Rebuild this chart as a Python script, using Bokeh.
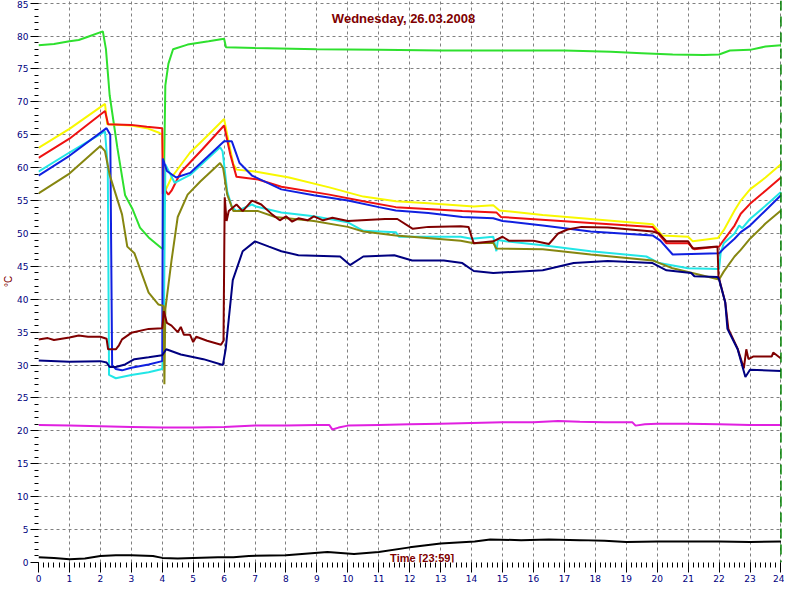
from bokeh.plotting import figure
from bokeh.models import Range1d, SingleIntervalTicker, Label, Span
from bokeh.embed import file_html
from bokeh.resources import INLINE

TITLE = "Wednesday, 26.03.2008"
Y_LABEL = "°C"
X_LABEL = "Time [23:59]"

# [hour, °C] pairs
green_pts = [[0, 78.6], [0.5, 78.8], [1.0, 79.2], [1.3, 79.4], [1.6, 79.9], [2.08, 80.7], [2.18, 78.0],
             [2.3, 71.0], [2.55, 63.0], [2.8, 55.8], [3.03, 53.8], [3.28, 50.9], [3.56, 49.4], [3.97, 47.8],
             [4.04, 47.6], [4.06, 60.0], [4.1, 72.5], [4.2, 75.8], [4.35, 78.0], [4.82, 78.7], [5.5, 79.2],
             [6.0, 79.6], [6.06, 78.3], [7, 78.2], [9, 78.0], [11, 77.9], [13, 77.8], [15, 77.8], [17, 77.8],
             [18.5, 77.6], [19.5, 77.4], [20.5, 77.2], [21.5, 77.1], [22.0, 77.2], [22.35, 77.8], [23.0, 77.9],
             [23.5, 78.4], [24, 78.6]]
yellow_pts = [[0, 63.0], [1.0, 65.9], [2.15, 69.7], [2.22, 66.6], [3.0, 66.4], [3.5, 66.0], [3.9, 65.3],
              [4.0, 65.0], [4.05, 58.0], [4.1, 56.5], [4.3, 58.5], [4.9, 62.3], [5.45, 64.8], [6.0, 67.4],
              [6.1, 65.0], [6.3, 60.5], [6.4, 59.7], [7.0, 59.4], [8.1, 58.5], [9.4, 57.0], [10.5, 55.6],
              [11.55, 54.9], [12.6, 54.6], [14.07, 54.1], [14.7, 54.3], [14.9, 53.5], [16.3, 52.8],
              [17.85, 52.2], [19.85, 51.4], [20.16, 49.7], [21.0, 49.5], [21.15, 48.8], [21.96, 49.3],
              [22.15, 50.5], [22.5, 53.5], [22.7, 55.0], [23.0, 56.7], [23.5, 58.5], [24, 60.5]]
red_pts = [[0, 61.5], [1.0, 64.4], [2.15, 68.6], [2.25, 66.6], [3.0, 66.5], [3.5, 66.2], [4.0, 66.0],
           [4.02, 56.0], [4.05, 61.0], [4.1, 56.5], [4.2, 55.9], [4.3, 56.5], [4.6, 59.3], [5.3, 62.8],
           [6.0, 66.4], [6.2, 62.0], [6.4, 58.6], [7.1, 58.2], [7.85, 57.1], [9.4, 55.9], [10.5, 54.9],
           [11.55, 54.0], [13.7, 53.4], [14.8, 53.2], [14.95, 52.5], [17.85, 51.6], [19.85, 51.0],
           [20.3, 48.5], [21.0, 48.5], [21.2, 47.6], [22.0, 48.0], [22.15, 49.0], [22.5, 51.2],
           [22.7, 53.0], [23.0, 54.5], [23.5, 56.5], [24, 58.5]]
blue_pts = [[0, 58.8], [1.0, 61.8], [2.2, 66.0], [2.32, 65.0], [2.38, 30.0], [2.5, 29.4], [2.7, 29.2],
            [3.0, 29.6], [3.56, 30.1], [4.0, 30.6], [4.02, 61.4], [4.15, 59.5], [4.45, 58.5], [4.9, 59.2],
            [6.0, 64.0], [6.25, 64.0], [6.5, 60.7], [6.9, 58.8], [7.85, 56.7], [8.9, 55.8], [10.0, 55.0],
            [11.0, 54.0], [11.55, 53.5], [12.6, 53.1], [13.7, 52.5], [14.7, 52.3], [15.0, 51.9],
            [16.3, 51.2], [17.85, 50.3], [19.85, 49.7], [20.1, 48.9], [20.5, 46.8], [22.0, 47.0],
            [22.15, 47.7], [22.5, 49.2], [22.7, 50.2], [23.0, 51.2], [23.5, 53.5], [24, 55.8]]
cyan_pts = [[0, 59.4], [1.0, 62.3], [2.15, 65.5], [2.24, 60.0], [2.28, 28.5], [2.5, 28.0], [3.0, 28.5],
            [3.56, 28.9], [4.0, 29.4], [4.05, 35.0], [4.1, 60.5], [4.4, 57.7], [4.9, 58.9], [5.87, 63.1],
            [5.95, 62.5], [6.1, 56.4], [6.25, 54.0], [6.4, 53.4], [6.9, 54.4], [7.03, 54.1], [7.85, 53.2],
            [8.9, 52.6], [10.0, 51.7], [10.5, 50.4], [11.55, 50.2], [11.65, 49.5], [13.65, 49.5],
            [14.0, 49.2], [14.7, 49.5], [14.8, 47.3], [14.85, 49.0], [15.1, 48.8], [16.3, 48.2],
            [17.85, 47.3], [19.65, 46.5], [20.06, 45.5], [21.0, 44.7], [22.0, 44.6], [22.05, 47.0],
            [22.15, 48.5], [22.5, 50.0], [22.65, 51.2], [22.75, 50.8], [23.0, 52.2], [23.5, 54.2], [24, 56.3]]
olive_pts = [[0, 56.1], [1.0, 59.1], [2.0, 63.3], [2.15, 62.5], [2.3, 58.9], [2.5, 55.9], [2.7, 52.9],
             [2.87, 48.0], [3.1, 47.0], [3.56, 41.0], [3.88, 39.2], [4.04, 39.0], [4.07, 27.1], [4.1, 38.5],
             [4.3, 45.9], [4.5, 52.5], [4.82, 55.9], [5.23, 57.9], [5.87, 60.7], [5.97, 59.9], [6.1, 55.9],
             [6.3, 53.4], [7.1, 53.4], [7.65, 52.5], [8.9, 51.9], [10.0, 51.0], [10.5, 50.3], [11.55, 49.7],
             [13.65, 48.9], [14.07, 48.5], [14.7, 48.6], [14.8, 47.7], [16.3, 47.6], [17.85, 46.8],
             [19.85, 45.9], [20.5, 44.7], [22.0, 43.0], [22.15, 44.2], [22.5, 46.5], [22.7, 47.5],
             [23.0, 49.2], [23.5, 51.5], [24, 53.5]]
maroon_pts = [[0, 33.9], [0.3, 34.1], [0.5, 33.8], [1.0, 34.2], [1.3, 34.5], [1.6, 34.3], [2.0, 34.3],
              [2.2, 34.0], [2.25, 32.4], [2.5, 32.4], [2.6, 33.0], [2.7, 33.9], [3.0, 34.9], [3.56, 35.5],
              [4.0, 35.6], [4.05, 38.2], [4.15, 36.4], [4.3, 36.0], [4.5, 35.0], [4.6, 35.8], [4.7, 34.6],
              [4.9, 34.6], [5.0, 33.5], [5.1, 34.3], [5.45, 33.7], [5.9, 33.1], [5.98, 33.7], [6.02, 55.5],
              [6.08, 51.9], [6.15, 53.4], [6.4, 54.4], [6.6, 53.4], [6.9, 55.0], [7.2, 54.4], [7.55, 52.9],
              [7.8, 52.0], [8.0, 52.6], [8.2, 51.8], [8.4, 52.3], [8.7, 52.0], [8.9, 52.6], [9.2, 52.0],
              [9.5, 52.4], [10.0, 51.9], [11.2, 52.2], [11.6, 52.2], [12.1, 50.7], [12.6, 51.0],
              [13.65, 51.1], [13.9, 51.0], [14.0, 49.5], [14.07, 48.5], [14.7, 48.8], [15.0, 49.5],
              [15.2, 48.9], [16.0, 48.9], [16.5, 48.4], [16.8, 50.0], [17.1, 50.6], [17.55, 51.0],
              [18.4, 50.9], [19.85, 50.3], [20.06, 50.0], [20.3, 48.8], [21.0, 48.8], [21.15, 47.7],
              [21.95, 48.0], [21.98, 43.5], [22.2, 39.5], [22.3, 35.5], [22.6, 32.5], [22.8, 29.5],
              [22.88, 32.4], [22.95, 30.9], [23.1, 31.3], [23.7, 31.3], [23.75, 31.9], [24, 31.0]]
navy_pts = [[0, 30.7], [1, 30.5], [2, 30.6], [2.2, 30.4], [2.3, 29.7], [2.5, 29.7], [2.8, 30.1], [3.1, 30.9],
            [3.56, 31.2], [4.0, 31.5], [4.13, 32.4], [4.6, 31.6], [5.33, 30.9], [5.96, 30.0], [6.05, 32.4],
            [6.28, 42.9], [6.6, 47.3], [7.0, 48.8], [7.45, 48.0], [7.85, 47.3], [8.4, 46.7], [9.75, 46.5],
            [10.07, 45.2], [10.5, 46.5], [11.5, 46.7], [12.08, 45.9], [13.1, 45.9], [13.7, 45.5],
            [14.07, 44.3], [14.7, 44.0], [16.3, 44.4], [17.3, 45.5], [18.4, 45.8], [19.85, 45.5],
            [20.3, 44.4], [21.1, 44.0], [21.2, 43.5], [21.95, 43.4], [22.0, 43.0], [22.2, 39.5],
            [22.27, 35.5], [22.6, 32.4], [22.85, 28.2], [23.0, 29.3], [24, 29.1]]
magenta_pts = [[0, 20.9], [1, 20.8], [2, 20.7], [3, 20.6], [4, 20.5], [5, 20.5], [6, 20.6], [7, 20.8],
               [8, 20.8], [9, 20.9], [9.4, 20.9], [9.5, 20.2], [9.7, 20.5], [10, 20.8], [11, 20.9],
               [12, 21.0], [13, 21.1], [14, 21.2], [15, 21.3], [16, 21.3], [16.8, 21.5], [17.5, 21.4],
               [18.3, 21.3], [19.2, 21.3], [19.3, 20.8], [19.6, 21.0], [20, 21.1], [21, 21.1], [22, 21.0],
               [23, 20.9], [24, 20.9]]
black_pts = [[0, 0.8], [0.5, 0.7], [1.0, 0.5], [1.5, 0.6], [2.0, 1.0], [2.5, 1.1], [3.0, 1.1], [3.7, 1.0],
             [4.0, 0.7], [4.5, 0.6], [5.0, 0.7], [5.8, 0.8], [6.3, 0.8], [6.8, 1.0], [8.0, 1.1], [9.34, 1.6],
             [10.2, 1.3], [11.0, 1.6], [12.0, 2.3], [13.0, 2.9], [14.1, 3.2], [14.6, 3.5], [15.6, 3.4],
             [16.5, 3.5], [17.5, 3.4], [18.3, 3.3], [19.0, 3.1], [20.0, 3.2], [21.0, 3.2], [22.0, 3.2],
             [23.0, 3.1], [24.0, 3.2]]

series = [
    (green_pts, "#2ee02e"),
    (yellow_pts, "#f8f800"),
    (red_pts, "#ee1111"),
    (cyan_pts, "#22e6e6"),
    (blue_pts, "#1020e0"),
    (olive_pts, "#868610"),
    (maroon_pts, "#800000"),
    (navy_pts, "#000080"),
    (magenta_pts, "#e020e0"),
    (black_pts, "#000000"),
]

p = figure(width=784, height=584, output_backend="svg", toolbar_location=None,
           x_range=Range1d(0, 24.05), y_range=Range1d(0, 85.4),
           min_border_left=34, min_border_right=2, min_border_top=0, min_border_bottom=10)
p.outline_line_color = None
p.background_fill_color = "white"
p.border_fill_color = "white"

p.xaxis.ticker = SingleIntervalTicker(interval=1, num_minor_ticks=6)
p.yaxis.ticker = SingleIntervalTicker(interval=5, num_minor_ticks=5)
for ax in (p.xaxis[0], p.yaxis[0]):
    ax.axis_line_color = None
    ax.major_tick_line_color = "#000000"
    ax.minor_tick_line_color = "#000000"
    ax.major_tick_in = 0
    ax.minor_tick_in = 0
    ax.major_label_text_color = "#000080"
    ax.major_label_text_font = "DejaVu Sans"
    ax.major_label_text_font_size = "9px"
p.xaxis.major_tick_out = 10
p.xaxis.minor_tick_out = 5
p.xaxis.major_label_standoff = 2
p.yaxis.major_tick_out = 8
p.yaxis.minor_tick_out = 4
p.yaxis.major_label_standoff = 2
p.yaxis.axis_label = Y_LABEL
p.yaxis.axis_label_standoff = 0
p.yaxis.axis_label_text_color = "#800000"
p.yaxis.axis_label_text_font = "Liberation Sans"
p.yaxis.axis_label_text_font_style = "normal"
p.yaxis.axis_label_text_font_size = "10px"

for g in (p.xgrid[0], p.ygrid[0]):
    g.grid_line_color = "#808080"
    g.grid_line_dash = "3 3"
    g.grid_line_width = 1

for pts, col in series:
    xs = [a for a, b in pts]
    ys = [b for a, b in pts]
    p.line(xs, ys, line_color=col, line_width=2)

p.add_layout(Span(location=24, dimension="height", line_color="#008000", line_dash="10 6", line_width=1.5))

p.add_layout(Label(x=11.8, y=82.7, text=TITLE, text_align="center", text_baseline="alphabetic",
                   text_color="#800000", text_font="Liberation Sans", text_font_style="bold",
                   text_font_size="13px"))
p.add_layout(Label(x=12.4, y=0.7, text=X_LABEL, text_align="center", text_baseline="alphabetic",
                   text_color="#800000", text_font="Liberation Sans", text_font_style="bold",
                   text_font_size="11px"))

open("out.html", "w").write(file_html(p, INLINE))
